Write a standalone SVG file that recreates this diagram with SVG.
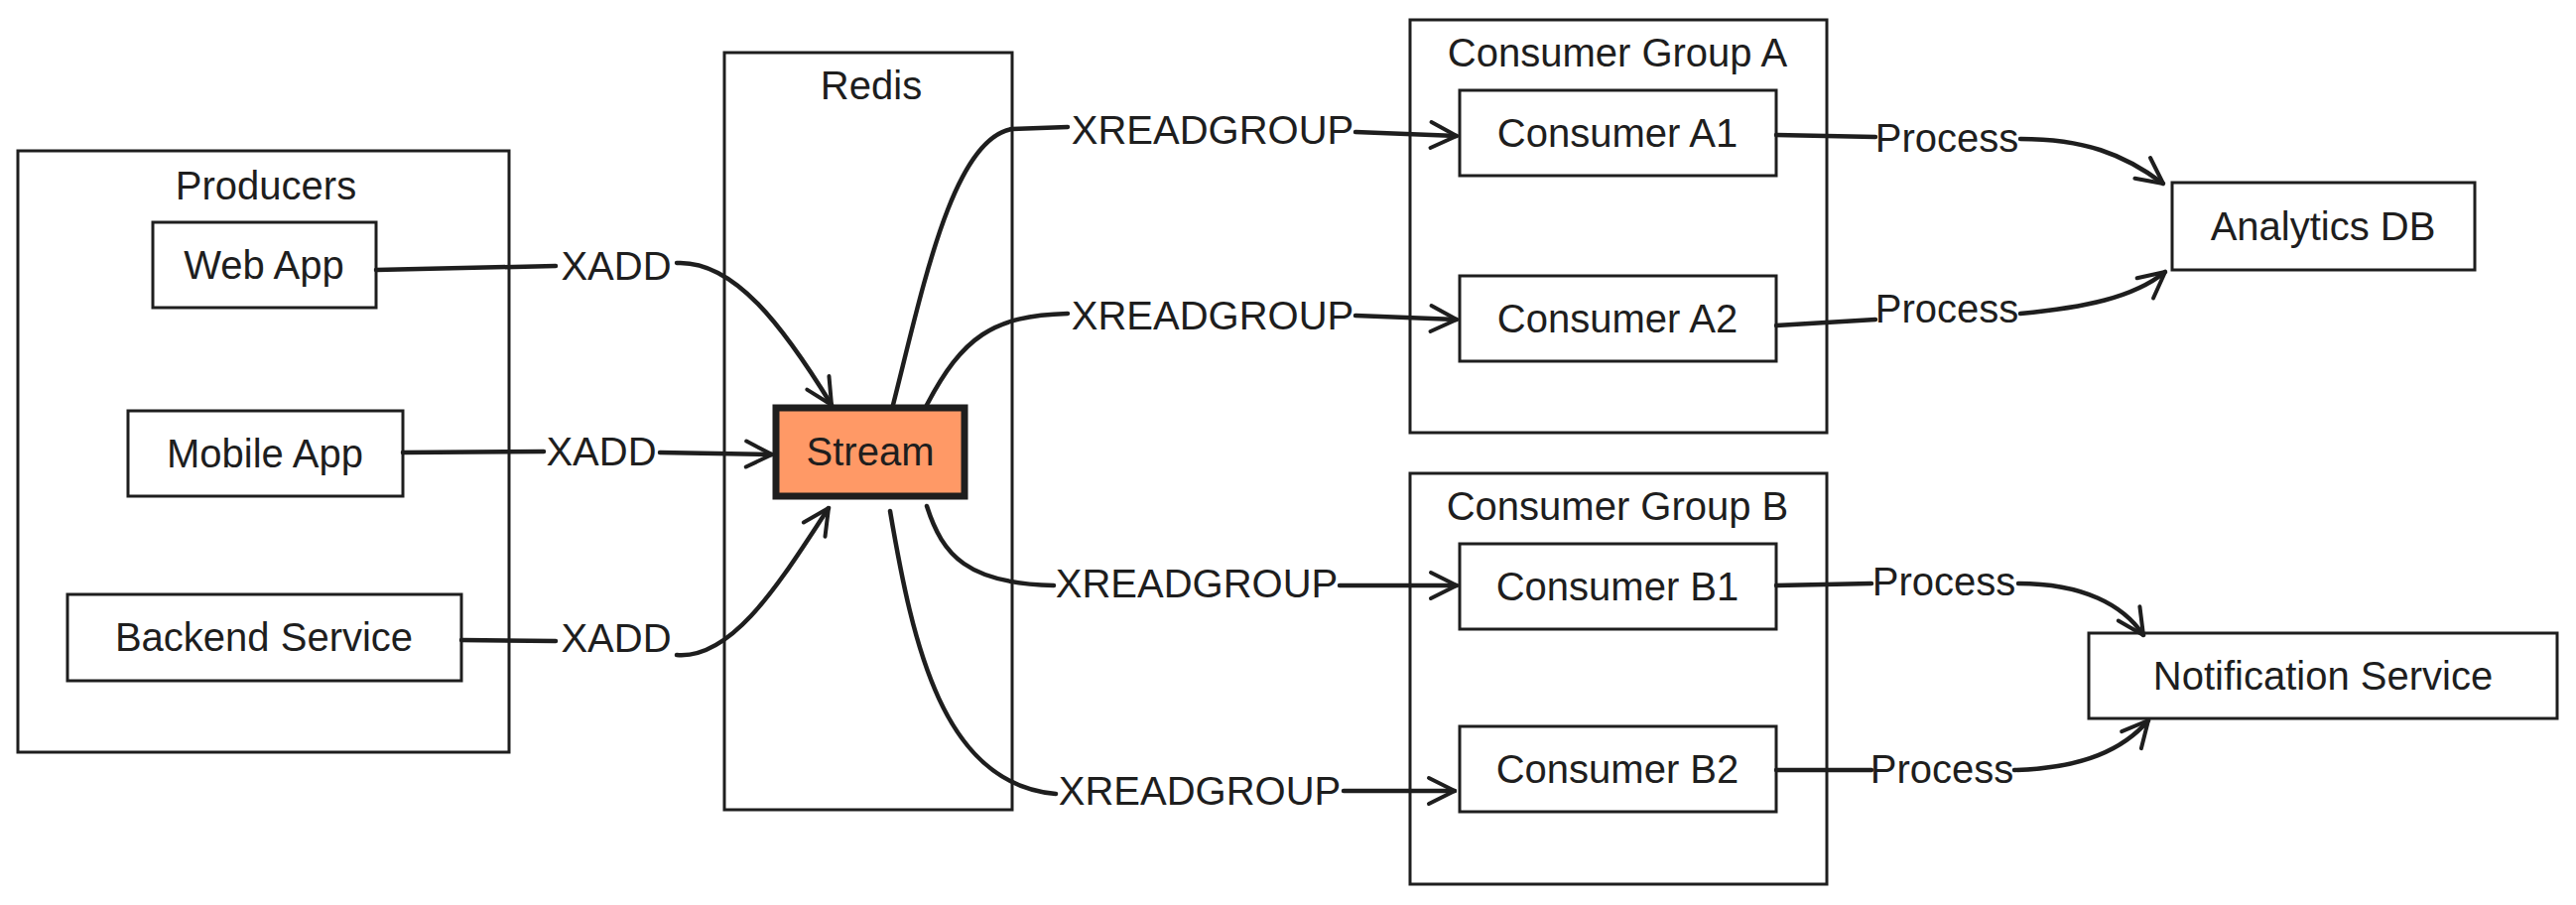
<svg xmlns="http://www.w3.org/2000/svg" width="2596" height="912" viewBox="0 0 2596 912">
<defs>
<marker id="ah" markerUnits="userSpaceOnUse" markerWidth="40" markerHeight="40" refX="30" refY="15" viewBox="0 0 40 30" orient="auto">
<path d="M4,2 L30,15 L4,28" fill="none" stroke="#1e1e1e" stroke-width="4" stroke-linecap="round" stroke-linejoin="round"/>
</marker>
</defs>
<style>
rect{fill:#fff;stroke:#1e1e1e;stroke-width:3}
.c{fill:none;stroke:#1e1e1e;stroke-width:4.5;stroke-linecap:round}
text{font-family:"Liberation Sans",Arial,sans-serif;font-size:40px;fill:#1e1e1e;text-anchor:middle;dominant-baseline:central}
</style>
<rect width="2596" height="912" style="stroke:none"/>
<g id="producers"><rect x="18" y="152" width="495" height="606"/><text x="268" y="187">Producers</text></g>
<g id="webapp"><rect x="154" y="224" width="225" height="86"/><text x="266" y="267">Web App</text></g>
<g id="mobileapp"><rect x="129" y="414" width="277" height="86"/><text x="267" y="457">Mobile App</text></g>
<g id="backend"><rect x="68" y="599" width="397" height="87"/><text x="266" y="642">Backend Service</text></g>
<g id="redis"><rect x="730" y="53" width="290" height="763"/><text x="878" y="86">Redis</text></g>
<g id="stream"><rect x="782" y="411" width="190" height="89" style="fill:#ff9966;stroke-width:7"/><text x="877" y="455">Stream</text></g>
<g id="groupA"><rect x="1421" y="20" width="420" height="416"/><text x="1630" y="53">Consumer Group A</text></g>
<g id="a1"><rect x="1471" y="91" width="319" height="86"/><text x="1630" y="134">Consumer A1</text></g>
<g id="a2"><rect x="1471" y="278" width="319" height="86"/><text x="1630" y="321">Consumer A2</text></g>
<g id="groupB"><rect x="1421" y="477" width="420" height="414"/><text x="1630" y="510">Consumer Group B</text></g>
<g id="b1"><rect x="1471" y="548" width="319" height="86"/><text x="1630" y="591">Consumer B1</text></g>
<g id="b2"><rect x="1471" y="732" width="319" height="86"/><text x="1630" y="775">Consumer B2</text></g>
<g id="analytics"><rect x="2189" y="184" width="305" height="88"/><text x="2341" y="228">Analytics DB</text></g>
<g id="notification"><rect x="2105" y="638" width="472" height="86"/><text x="2341" y="681">Notification Service</text></g>
<g id="connectors">
<path class="c" d="M379,272 L560,268"/><path class="c" d="M682,265 C740,262 790,330 838,408" marker-end="url(#ah)"/>
<path class="c" d="M406,456 L548,455"/><path class="c" d="M665,456 L778,458" marker-end="url(#ah)"/>
<path class="c" d="M465,645 L560,646"/><path class="c" d="M682,660 C740,665 790,580 835,512" marker-end="url(#ah)"/>
<path class="c" d="M900,408 C930,290 960,140 1020,130 L1076,128"/><path class="c" d="M1366,133 L1468,137" marker-end="url(#ah)"/>
<path class="c" d="M934,408 C970,340 1000,318 1076,316"/><path class="c" d="M1366,318 L1468,322" marker-end="url(#ah)"/>
<path class="c" d="M934,510 C950,560 975,588 1062,590"/><path class="c" d="M1350,590 L1468,590" marker-end="url(#ah)"/>
<path class="c" d="M897,515 C920,650 950,790 1064,800"/><path class="c" d="M1354,797 L1466,797" marker-end="url(#ah)"/>
<path class="c" d="M1790,136 L1890,138"/><path class="c" d="M2036,140 C2100,140 2140,155 2180,185" marker-end="url(#ah)"/>
<path class="c" d="M1790,328 L1890,322"/><path class="c" d="M2036,316 C2100,310 2150,300 2182,274" marker-end="url(#ah)"/>
<path class="c" d="M1790,590 L1886,588"/><path class="c" d="M2034,588 C2100,588 2140,610 2160,640" marker-end="url(#ah)"/>
<path class="c" d="M1790,776 L1886,776"/><path class="c" d="M2030,776 C2100,774 2140,755 2165,726" marker-end="url(#ah)"/>
<text x="621" y="268">XADD</text><text x="606" y="455">XADD</text><text x="621" y="643">XADD</text>
<text x="1222" y="131">XREADGROUP</text><text x="1222" y="318">XREADGROUP</text><text x="1206" y="588">XREADGROUP</text><text x="1209" y="797">XREADGROUP</text>
<text x="1962" y="139">Process</text><text x="1962" y="311">Process</text><text x="1959" y="586">Process</text><text x="1957" y="775">Process</text>
</g>
</svg>
